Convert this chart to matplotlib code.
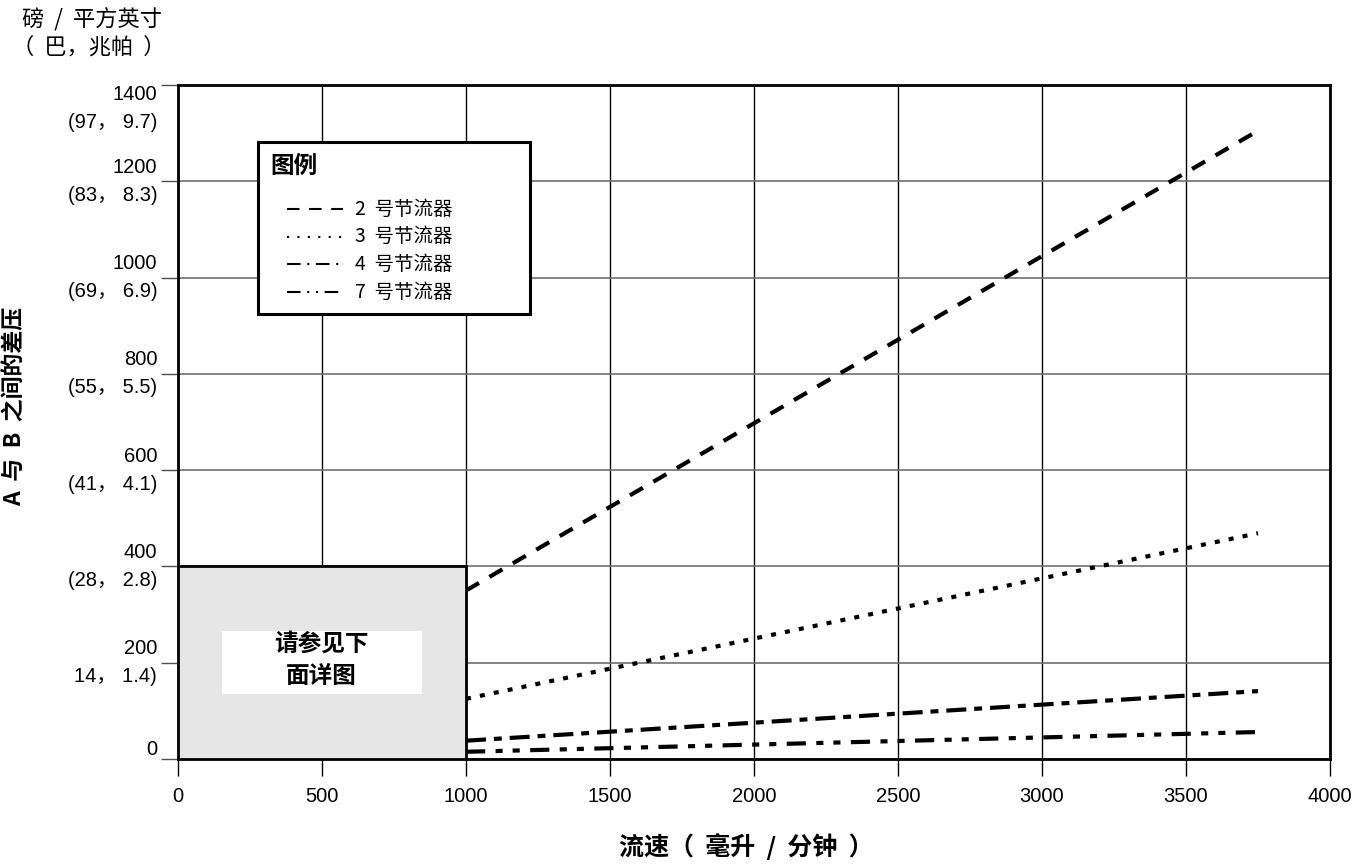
import matplotlib
matplotlib.use('Agg')
import matplotlib.pyplot as plt
from matplotlib.lines import Line2D
from matplotlib.patches import Rectangle

plt.rcParams['font.family'] = ['Noto Sans CJK SC', 'DejaVu Sans']

# flow rate (ml/min) and pressure drop (psi)
flow = [1000, 3750]
dp_no2 = [350, 1305]
dp_no3 = [125, 469]
dp_no4 = [38, 141]
dp_no7 = [15, 56]

series_names = ['2  号节流器', '3  号节流器', '4  号节流器', '7  号节流器']

xticks = [0, 500, 1000, 1500, 2000, 2500, 3000, 3500, 4000]
yticks = [0, 200, 400, 600, 800, 1000, 1200, 1400]
ylab_psi = ['0', '200', '400', '600', '800', '1000', '1200', '1400']
ylab_bar = ['', '14， 1.4)', '(28， 2.8)', '(41， 4.1)', '(55， 5.5)',
            '(69， 6.9)', '(83， 8.3)', '(97， 9.7)']

# dash patterns (in units of linewidth), plot lines and thin legend samples
dash2 = (0, (3.6, 2.9))
dash3 = (0, (1.2, 2.2))
dash4 = (0, (4.8, 1.9, 1.9, 1.9))
dash7 = (0, (4.6, 2.5, 1.7, 2.4, 1.7, 2.5))
leg2 = (0, (6.0, 4.6))
leg3 = (0, (1.0, 4.0))
leg4 = (0, (6.5, 3.2, 1.0, 3.2))
leg7 = (0, (6.5, 3.2, 1.0, 3.2, 1.0, 3.2))

num_font = ['Liberation Sans', 'Noto Sans CJK SC']

W, H = 1360, 865
AX_L, AX_R, AX_T, AX_B = 178, 1330, 85, 759


def ax_frac(px, py):
    # pixel position -> axes fraction
    return (px - AX_L) / (AX_R - AX_L), (AX_B - py) / (AX_B - AX_T)


def driver():
    fig = plt.figure(figsize=(W/100, H/100), dpi=100)
    ax = fig.add_axes([AX_L/W, 1-AX_B/H, (AX_R-AX_L)/W, (AX_B-AX_T)/H])

    lw = 3
    ax.plot(flow, dp_no2, color='black', lw=lw, linestyle=dash2, zorder=3)
    ax.plot(flow, dp_no3, color='black', lw=lw, linestyle=dash3, zorder=3)
    ax.plot(flow, dp_no4, color='black', lw=lw, linestyle=dash4, zorder=3)
    ax.plot(flow, dp_no7, color='black', lw=lw, linestyle=dash7, zorder=3)

    ax.set_xlim(0, 4000)
    ax.set_ylim(0, 1400)
    ax.set_xticks(xticks)
    ax.set_yticks(yticks)

    # grid: vertical black, horizontal grey
    ax.xaxis.grid(True, color='black', lw=1)
    ax.yaxis.grid(True, color='#707070', lw=1.2)
    ax.set_axisbelow(True)

    for s in ax.spines.values():
        s.set_linewidth(2)
        s.set_color('black')

    ax.tick_params(axis='x', direction='out', length=12, width=1, pad=8, labelsize=14.5)
    ax.tick_params(axis='y', direction='out', length=12, width=1, color='#505050',
                   pad=3, labelsize=14.5)
    ax.set_xticklabels([str(v) for v in xticks], family=num_font)
    ax.set_yticklabels([a + ('\n' + b if b else '') for a, b in zip(ylab_psi, ylab_bar)],
                       linespacing=1.6, ha='right', family=num_font)
    tl = ax.get_yticklabels()
    for t in tl[1:-1]:
        t.set_verticalalignment('center')
    tl[0].set_verticalalignment('bottom')
    tl[-1].set_verticalalignment('top')

    # grey box covering the low range
    ax.add_patch(Rectangle((0, 0), 1000, 400, facecolor='#e6e6e6', edgecolor='black',
                           lw=2, zorder=4))
    ax.add_patch(Rectangle((153, 135), 694, 131, facecolor='white', edgecolor='none',
                           zorder=5))
    ax.text(497, 206, '请参见下\n面详图', ha='center', va='center', fontsize=17,
            fontweight='bold', linespacing=1.45, zorder=6)

    # legend, drawn by hand so the title sits left of the samples
    x0, y0 = ax_frac(258, 314)
    x1, y1 = ax_frac(530, 142)
    ax.add_patch(Rectangle((x0, y0), x1-x0, y1-y0, transform=ax.transAxes,
                           facecolor='white', edgecolor='black', lw=2.2, zorder=7))
    tx, ty = ax_frac(270, 166)
    ax.text(tx, ty, '图例', transform=ax.transAxes, fontsize=17, fontweight='bold',
            ha='left', va='center', zorder=8)
    leg_styles = [leg2, leg3, leg4, leg7]
    for i, (name, st) in enumerate(zip(series_names, leg_styles)):
        yy = 209 + i*27.7
        hx0, hy = ax_frac(287, yy)
        hx1, _ = ax_frac(343, yy)
        ax.add_line(Line2D([hx0, hx1], [hy, hy], transform=ax.transAxes, color='black',
                           lw=1.5, linestyle=st, zorder=8))
        lx, _ = ax_frac(355, yy)
        ax.text(lx, hy, name, transform=ax.transAxes, fontsize=14, ha='left',
                va='center', zorder=8)

    fig.text(22/W, 1-20/H, '磅  /  平方英寸', fontsize=16, va='center', ha='left')
    fig.text(12/W, 1-47/H, '（  巴，兆帕  ）', fontsize=16, va='center', ha='left')
    fig.text(14/W, 1-406/H, 'A  与  B  之间的差压', rotation=90, fontsize=16.5,
             fontweight='bold', ha='center', va='center')
    fig.text(746/W, 1-847/H, '流速（  毫升  /  分钟  ）', fontsize=18,
             fontweight='bold', ha='center', va='center')

    fig.savefig('out.png', dpi=100)


if __name__ == '__main__':
    driver()
